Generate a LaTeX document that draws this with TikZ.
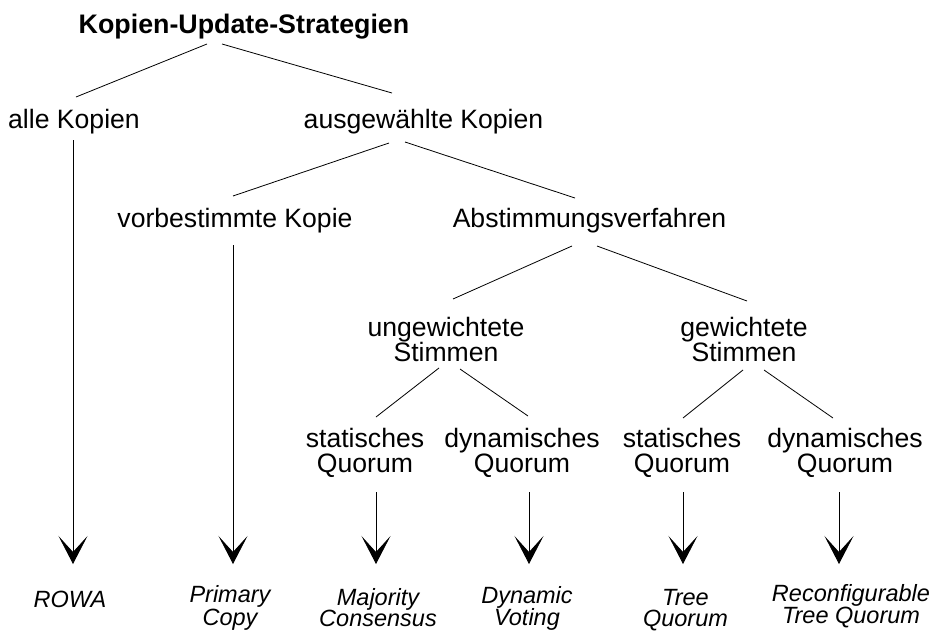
\documentclass[tikz,border=0pt]{standalone}
\usepackage{fontspec}
\setmainfont{Liberation Sans}
\usetikzlibrary{arrows.meta}
\newcommand\twoln[3]{\vtop{\baselineskip=#3\relax\lineskiplimit=-20pt\halign{\hfil##\hfil\cr #1\cr #2\cr}}}
\tikzset{
  lbl/.style={inner sep=0pt, anchor=base, font=\fontsize{26.6pt}{25pt}\selectfont},
  ttl/.style={inner sep=0pt, anchor=base, font=\fontsize{26.8pt}{27pt}\selectfont\bfseries},
  res/.style={inner sep=0pt, anchor=base, font=\fontsize{23.5pt}{23pt}\selectfont\itshape},
  edge/.style={line width=0.8pt},
  arr/.style={line width=0.8pt, -{Stealth[length=28pt,width=29pt,inset=16pt]}}
}
\begin{document}
\begin{tikzpicture}[x=1pt,y=1pt]
\useasboundingbox (0,0) rectangle (930,-632);
\node[ttl] (title) at (244,-33) {Kopien-Update-Strategien};
\node[lbl] (alle) at (74,-128) {alle Kopien};
\node[lbl] (ausg) at (423.5,-128) {ausgewählte Kopien};
\node[lbl] (vorb) at (235,-227) {vorbestimmte Kopie};
\node[lbl] (abst) at (589.5,-227) {Abstimmungsverfahren};
\node[lbl] (ungew) at (446,-336) {\twoln{ungewichtete}{Stimmen}{25pt}};
\node[lbl] (gew) at (744,-336) {\twoln{gewichtete}{Stimmen}{25pt}};
\node[lbl] (statA) at (365,-447) {\twoln{statisches}{Quorum}{25pt}};
\node[lbl] (dynA) at (522,-447) {\twoln{dynamisches}{Quorum}{25pt}};
\node[lbl] (statB) at (682,-447) {\twoln{statisches}{Quorum}{25pt}};
\node[lbl] (dynB) at (845,-447) {\twoln{dynamisches}{Quorum}{25pt}};
\node[res] (rowa) at (70,-607) {ROWA};
\node[res] (prim) at (230,-602) {\twoln{Primary}{Copy}{23pt}};
\node[res] (maj) at (378,-605) {\twoln{Majority}{Consensus}{21.5pt}};
\node[res] (dynv) at (527,-603) {\twoln{Dynamic}{Voting}{22pt}};
\node[res] (tree) at (685.5,-605) {\twoln{Tree}{Quorum}{21.5pt}};
\node[res] (rtq) at (851,-601) {\twoln{Reconfigurable}{Tree Quorum}{22pt}};
% tree edges
\draw[edge] ([shift={(-37,-11)}]title.base) -- ([shift={(2,31)}]alle.base);
\draw[edge] ([shift={(-22,-11)}]title.base) -- ([shift={(-31.5,35)}]ausg.base);
\draw[edge] ([shift={(-34.5,-15)}]ausg.base) -- ([shift={(-2,31)}]vorb.base);
\draw[edge] ([shift={(-18.5,-14)}]ausg.base) -- ([shift={(-14.5,29)}]abst.base);
\draw[edge] ([shift={(-17.5,-19)}]abst.base) -- ([shift={(7,37)}]ungew.base);
\draw[edge] ([shift={(7.5,-19)}]abst.base) -- ([shift={(3,35)}]gew.base);
\draw[edge] ([shift={(-7,-32)}]ungew.base) -- ([shift={(11,30)}]statA.base);
\draw[edge] ([shift={(14,-33)}]ungew.base) -- ([shift={(6,31)}]dynA.base);
\draw[edge] ([shift={(-1,-34)}]gew.base) -- ([shift={(1,29)}]statB.base);
\draw[edge] ([shift={(20,-34)}]gew.base) -- ([shift={(-12,29)}]dynB.base);
% arrows
\draw[arr] ([shift={(-1,-12)}]alle.base) -- ([shift={(3,43)}]rowa.base);
\draw[arr] ([shift={(-2,-18)}]vorb.base) -- ([shift={(3,38)}]prim.base);
\draw[arr] ([shift={(11,-45)}]statA.base) -- ([shift={(-2,41)}]maj.base);
\draw[arr] ([shift={(7,-45)}]dynA.base) -- ([shift={(2,39)}]dynv.base);
\draw[arr] ([shift={(1,-45)}]statB.base) -- ([shift={(-2.5,41)}]tree.base);
\draw[arr] ([shift={(-6,-45)}]dynB.base) -- ([shift={(-12,37)}]rtq.base);
\end{tikzpicture}
\end{document}
